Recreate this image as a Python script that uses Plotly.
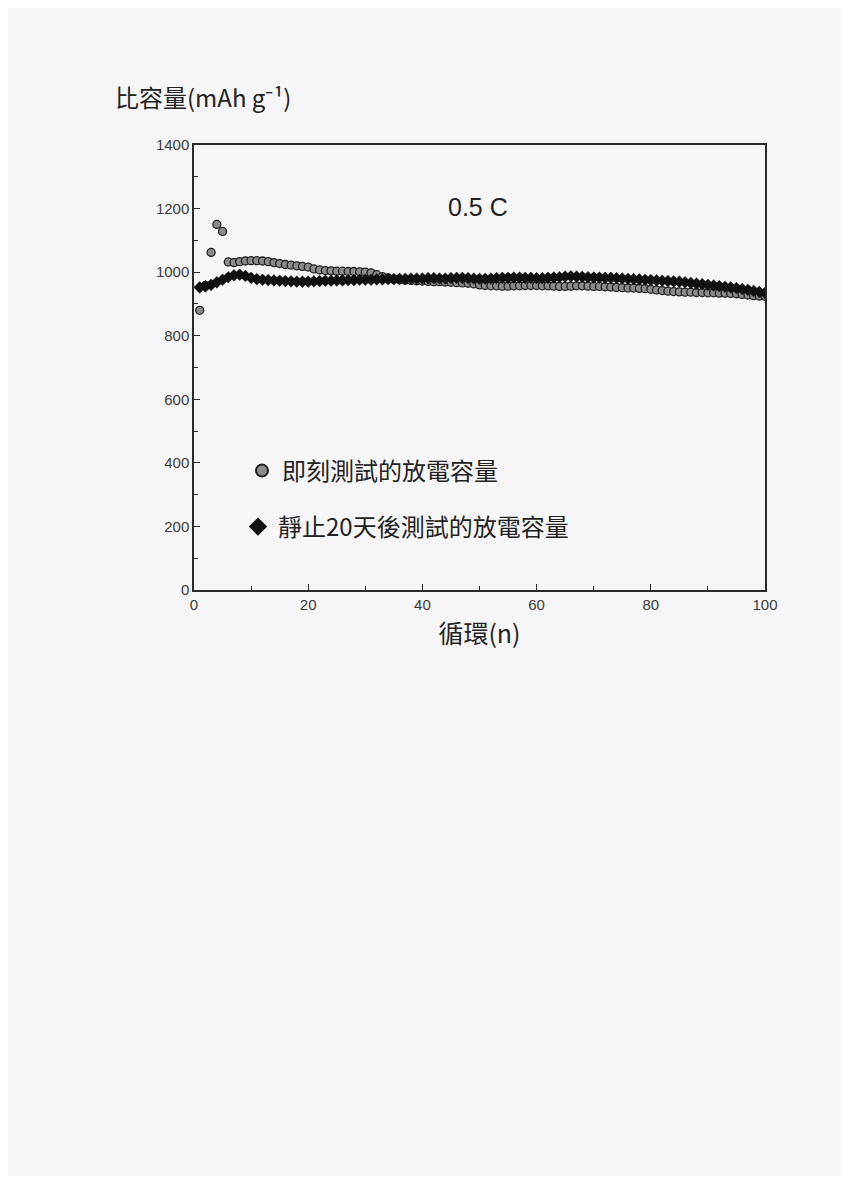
import plotly.graph_objects as go

cycles = list(range(1, 101))

immediate = [
    880, 958, 1062, 1150, 1128, 1032, 1030, 1033, 1035, 1036,
    1036, 1035, 1033, 1030, 1027, 1024, 1022, 1020, 1018, 1016,
    1010, 1007, 1005, 1004, 1003, 1003, 1002, 1002, 1001, 1000,
    998, 992, 986, 982, 978, 976, 975, 974, 973, 972,
    971, 970, 970, 969, 968, 967, 966, 965, 963, 960,
    958, 957, 957, 956, 956, 957, 957, 958, 958, 958,
    957, 957, 956, 955, 955, 956, 957, 957, 956, 955,
    955, 954, 953, 952, 951, 950, 950, 949, 948, 946,
    944, 942, 940, 939, 938, 937, 937, 936, 936, 935,
    935, 934, 934, 933, 932, 930, 928, 926, 925, 924,
]

rested = [
    952, 955, 960, 968, 976, 984, 990, 992, 988, 982,
    978, 976, 975, 974, 973, 972, 971, 970, 970, 970,
    971, 972, 973, 973, 974, 974, 975, 975, 976, 976,
    976, 977, 977, 978, 978, 979, 979, 980, 980, 980,
    981, 981, 980, 980, 981, 982, 982, 981, 980, 979,
    979, 980, 981, 982, 982, 983, 983, 982, 982, 981,
    981, 982, 983, 984, 986, 987, 986, 985, 984, 983,
    983, 982, 982, 981, 980, 979, 978, 977, 976, 975,
    974, 973, 972, 971, 970, 968, 966, 964, 962, 960,
    958, 956, 954, 952, 950, 947, 944, 941, 938, 935,
]

name_immediate = "即刻測試的放電容量"
name_rested = "靜止20天後測試的放電容量"
y_title = "比容量(mAh g⁻¹)"
x_title = "循環(n)"
rate_label = "0.5 C"

x_ticks = [0, 20, 40, 60, 80, 100]
y_ticks = [0, 200, 400, 600, 800, 1000, 1200, 1400]

FONT = "Liberation Sans, Arial, Noto Sans CJK TC, sans-serif"
CJK = "Noto Sans CJK TC, Liberation Sans, sans-serif"
BG = "#f6f6f8"

# page body has an 8px margin: plot area target (page px) left 194, right 765, top 145, bottom 590
OFF = 8
L, R, T, B = 194 - OFF, 765 - OFF, 145 - OFF, 590 - OFF
W, H = 849 - 2 * OFF, 1184 - 2 * OFF
PW, PH = R - L, B - T


def px(xp):
    return (xp - OFF - L) / PW


def py(yp):
    return (B - (yp - OFF)) / PH


fig = go.Figure()
fig.add_trace(go.Scatter(
    x=cycles, y=immediate, mode="markers", name=name_immediate,
    marker=dict(symbol="circle", size=8, color="#8c8c8c",
                line=dict(color="#1e1e1e", width=1.3)),
    legend="legend", showlegend=True,
))
fig.add_trace(go.Scatter(
    x=cycles, y=rested, mode="markers", name=name_rested,
    marker=dict(symbol="diamond", size=9, color="#111",
                line=dict(color="#111", width=0.5)),
    legend="legend2", showlegend=True,
))

axis_common = dict(
    showgrid=False, zeroline=False, showline=True, linecolor="#2a2a2a",
    linewidth=1.5, mirror=True, ticks="inside", ticklen=6, tickwidth=1.3,
    tickcolor="#2a2a2a", tickfont=dict(family=FONT, size=15, color="#3a3a3a"),
)

legend_common = dict(xanchor="left", yanchor="middle", bgcolor="rgba(0,0,0,0)",
                     font=dict(family=CJK, size=24, color="#222"),
                     itemsizing="constant")

fig.update_layout(
    width=W, height=H, showlegend=True,
    margin=dict(l=L, r=W - R, t=T, b=H - B),
    paper_bgcolor=BG, plot_bgcolor=BG,
    xaxis=dict(range=[0, 100], tickvals=x_ticks,
               minor=dict(dtick=10, ticks="inside", ticklen=4, tickcolor="#2a2a2a"),
               title=dict(text=x_title, font=dict(family=CJK, size=25, color="#222"),
                          standoff=14),
               **axis_common),
    yaxis=dict(range=[0, 1400], tickvals=y_ticks,
               minor=dict(dtick=100, ticks="inside", ticklen=4, tickcolor="#2a2a2a"),
               **axis_common),
    legend=dict(x=px(242), y=py(471), **legend_common),
    legend2=dict(x=px(238), y=py(527), **legend_common),
    annotations=[
        dict(text=rate_label, xref="paper", yref="paper",
             x=px(478), y=py(207), xanchor="center", yanchor="middle",
             showarrow=False, font=dict(family=FONT, size=25, color="#222")),
        dict(text=y_title, xref="paper", yref="paper",
             x=px(113), y=py(97), xanchor="left", yanchor="middle",
             showarrow=False, font=dict(family=CJK, size=24, color="#222")),
    ],
)

fig.write_html("out.html")
